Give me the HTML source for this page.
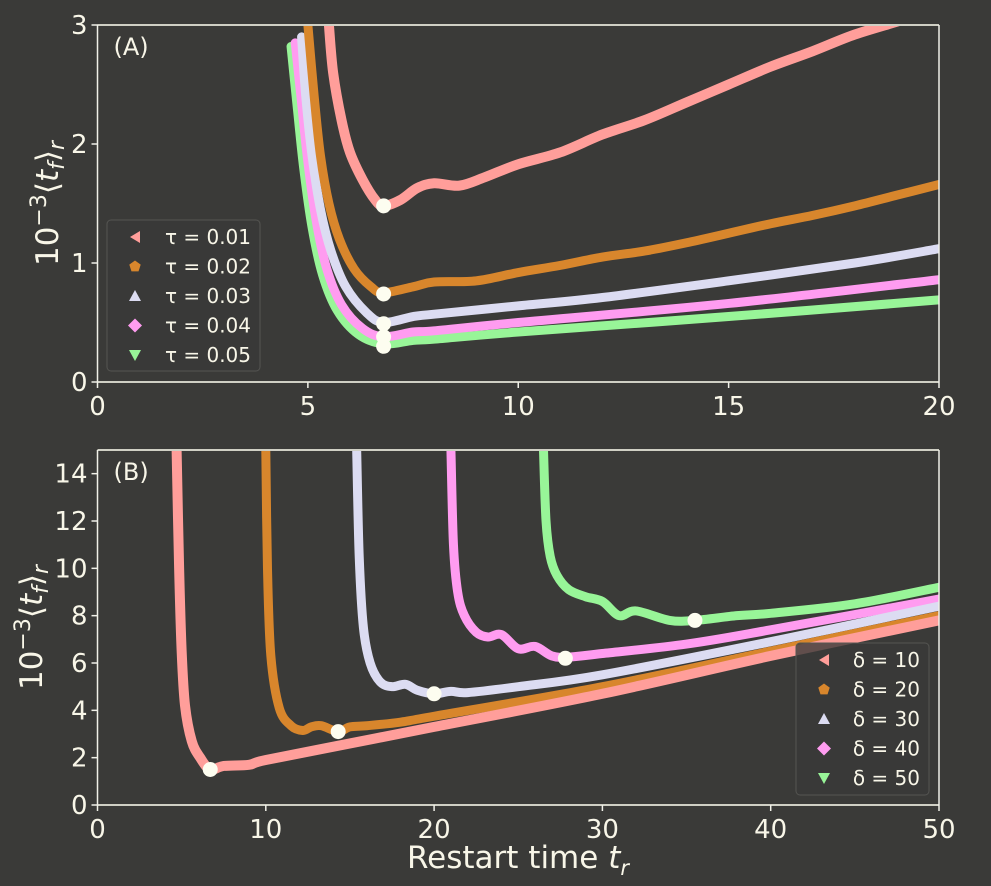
<!DOCTYPE html>
<html><head><meta charset="utf-8"><style>
body{margin:0;background:#3a3a38;}
svg text{font-family:"DejaVu Sans","Liberation Sans",sans-serif;fill:#f8f6e8;}
</style></head><body>
<svg width="991" height="886" viewBox="0 0 991 886" style="position:absolute;left:0;top:0">
<rect width="991" height="886" fill="#3a3a38"/>
<defs>
<clipPath id="ca"><rect x="97" y="25" width="842" height="357"/></clipPath>
<clipPath id="cb"><rect x="97" y="450" width="842" height="355"/></clipPath>
</defs>
<g id="A"></g><g id="B"></g>
<text x="518" y="868" text-anchor="middle" font-size="31">Restart time <tspan font-style="italic">t</tspan><tspan dy="7" font-size="21" font-style="italic">r</tspan></text>
</svg>
<script>
const colors=["#ff9e9a","#d8862c","#dcdcf2","#ff9cf0","#98f598"];
// Panel A data
const aLabels=["τ = 0.01","τ = 0.02","τ = 0.03","τ = 0.04","τ = 0.05"];
const aX=[
[5.5,5.6,5.8,6.0,6.3,6.6,6.8,7.2,7.6,8.0,8.6,9.2,10,11,12,13,14,15,16,17,18,19.2,20],
[5.0,5.15,5.3,5.5,5.75,6.1,6.5,6.8,7.5,8,9,10,11,12,13,14,15,16,17,18,19,20],
[4.85,4.95,5.1,5.3,5.55,5.9,6.4,6.8,7.5,8,10,12,15,18,20],
[4.7,4.85,5.0,5.2,5.45,5.8,6.3,6.8,7.5,8,10,15,20],
[4.6,4.75,4.9,5.1,5.35,5.7,6.2,6.8,7.5,8,10,15,20]];
const aY=[
[3.0,2.6,2.2,1.93,1.7,1.53,1.48,1.53,1.63,1.67,1.65,1.72,1.83,1.93,2.08,2.2,2.35,2.5,2.65,2.78,2.92,3.05,3.15],
[3.0,2.4,1.9,1.5,1.2,0.95,0.8,0.75,0.8,0.84,0.85,0.92,0.98,1.05,1.1,1.17,1.25,1.33,1.4,1.48,1.57,1.66],
[2.9,2.4,1.9,1.45,1.1,0.8,0.58,0.5,0.55,0.57,0.64,0.71,0.85,1.0,1.12],
[2.85,2.35,1.85,1.35,0.95,0.65,0.45,0.38,0.42,0.43,0.5,0.66,0.86],
[2.82,2.3,1.8,1.3,0.9,0.6,0.4,0.32,0.35,0.36,0.42,0.55,0.69]];
const aMinX=[6.8,6.8,6.8,6.8,6.8];
const aMinY=[1.48,0.74,0.49,0.38,0.30];
const aXTicks=[0,5,10,15,20], aYTicks=[0,1,2,3];
// Panel B data
const bLabels=["δ = 10","δ = 20","δ = 30","δ = 40","δ = 50"];
const bX=[
[4.7,4.85,5.0,5.2,5.6,6.1,6.7,7.5,9,10,15,20,30,40,50],
[10,10.1,10.3,10.8,11.5,12.2,12.7,13.3,14.3,15,16,18,20,30,40,50],
[15.4,15.55,15.8,16.2,16.8,17.5,18.3,19,20,21,22,25,30,40,50],
[21,21.15,21.4,21.8,22.5,23.2,24,25,26,27,28,30,35,40,50],
[26.5,26.65,26.9,27.3,28,29,30,31,32,34,35.5,38,40,45,50]];
const bY=[
[15,10,6.5,4.2,2.7,2.0,1.5,1.65,1.7,1.9,2.6,3.3,4.7,6.3,7.8],
[15,10,6.3,4.1,3.35,3.15,3.3,3.35,3.1,3.3,3.35,3.5,3.75,5.0,6.5,8.0],
[15,10.5,7.5,6.0,5.2,5.0,5.1,4.85,4.7,4.8,4.75,5.0,5.5,6.9,8.4],
[15,11,9,8,7.3,7.1,7.2,6.6,6.7,6.3,6.25,6.4,6.8,7.4,8.7],
[15,12,10.5,9.7,9.1,8.8,8.6,8.0,8.2,7.8,7.8,8.0,8.1,8.5,9.2]];
const bMinX=[6.7,14.3,20,27.8,35.5];
const bMinY=[1.5,3.1,4.7,6.2,7.8];
const bXTicks=[0,10,20,30,40,50], bYTicks=[0,2,4,6,8,10,12,14];

const NS="http://www.w3.org/2000/svg";
function mk(p,t,a){const e=document.createElementNS(NS,t);for(const k in a)e.setAttribute(k,a[k]);p.appendChild(e);return e;}
function smooth(P){
  let d="M"+P[0][0]+","+P[0][1];
  for(let i=0;i<P.length-1;i++){
    const p0=P[Math.max(0,i-1)],p1=P[i],p2=P[i+1],p3=P[Math.min(P.length-1,i+2)];
    const c1=[p1[0]+(p2[0]-p0[0])/6,p1[1]+(p2[1]-p0[1])/6];
    const c2=[p2[0]-(p3[0]-p1[0])/6,p2[1]-(p3[1]-p1[1])/6];
    d+=` C${c1[0]},${c1[1]} ${c2[0]},${c2[1]} ${p2[0]},${p2[1]}`;
  }
  return d;
}
function panel(g,cfg){
  const sx=v=>cfg.x0+(v-cfg.xmin)/(cfg.xmax-cfg.xmin)*(cfg.x1-cfg.x0);
  const sy=v=>cfg.y0-(v-cfg.ymin)/(cfg.ymax-cfg.ymin)*(cfg.y0-cfg.y1);
  const cg=mk(g,"g",{"clip-path":"url(#"+cfg.clip+")"});
  for(let i=4;i>=0;i--){
    const P=cfg.X[i].map((x,j)=>[sx(x),sy(cfg.Y[i][j])]);
    const l=mk(cg,"path",{d:smooth(P),fill:"none",stroke:colors[i],"stroke-width":i==0?10:9,"stroke-linejoin":"round","stroke-linecap":"round"});
    
    
  }
  for(let i=0;i<5;i++){
    const c=mk(cg,"circle",{cx:sx(cfg.MX[i]),cy:sy(cfg.MY[i]),r:7.5,fill:"#fdfdf0"});
    
    
  }
  mk(g,"line",{x1:cfg.x0,y1:cfg.y1,x2:cfg.x1,y2:cfg.y1,stroke:"#cfcfc4","stroke-width":2});
  mk(g,"line",{x1:cfg.x0,y1:cfg.y0,x2:cfg.x1,y2:cfg.y0,stroke:"#cfcfc4","stroke-width":2});
  mk(g,"line",{x1:cfg.x0,y1:cfg.y0,x2:cfg.x0,y2:cfg.y1,stroke:"#f0f0e8","stroke-width":1.5});
  mk(g,"line",{x1:cfg.x1,y1:cfg.y0,x2:cfg.x1,y2:cfg.y1,stroke:"#f0f0e8","stroke-width":1.5});
  cfg.XT.forEach(v=>{mk(g,"line",{x1:sx(v),x2:sx(v),y1:cfg.y0,y2:cfg.y0+6,stroke:"#f0f0e8","stroke-width":1.5});
    const t=mk(g,"text",{x:sx(v),y:cfg.y0+33,"text-anchor":"middle","font-size":26});t.textContent=v;
    });
  cfg.YT.forEach(v=>{mk(g,"line",{x1:cfg.x0-6,x2:cfg.x0,y1:sy(v),y2:sy(v),stroke:"#f0f0e8","stroke-width":1.5});
    const t=mk(g,"text",{x:cfg.x0-10,y:sy(v)+9,"text-anchor":"end","font-size":26});t.textContent=v;
    });
  const pl=mk(g,"text",{x:cfg.x0+16,y:cfg.y1+30,"font-size":24});pl.textContent=cfg.tag;
  
  const yl=mk(g,"text",{transform:`translate(${cfg.ylx},${(cfg.y0+cfg.y1)/2}) rotate(-90)`,"text-anchor":"middle","font-size":31});
  yl.innerHTML='10<tspan dy="-12" font-size="22">−3</tspan><tspan dy="12">⟨</tspan><tspan font-style="italic">t</tspan><tspan dy="6" font-size="22" font-style="italic">f</tspan><tspan dy="-6">⟩</tspan><tspan dy="6" font-size="22" font-style="italic">r</tspan>';
  
  const L=cfg.leg;
  const lg=mk(g,"g",{});
  
  mk(lg,"rect",{x:L.x,y:L.y,width:L.w,height:L.h,rx:4,fill:"#3a3a38","fill-opacity":0.8,stroke:"#555552","stroke-width":1});
  const shapes=["tri-left","pent","tri-up","diamond","tri-down"];
  for(let i=0;i<5;i++){
    const cx=L.x+28, cy=L.y+17+i*29.5;
    let pts;
    if(i==0)pts=[[cx+5,cy-6],[cx+5,cy+6],[cx-5,cy]];
    if(i==1)pts=[0,1,2,3,4].map(k=>[cx+6*Math.sin(k*1.2566),cy-6*Math.cos(k*1.2566)]);
    if(i==2)pts=[[cx,cy-6],[cx+6,cy+5],[cx-6,cy+5]];
    if(i==3)pts=[[cx,cy-7],[cx+7,cy],[cx,cy+7],[cx-7,cy]];
    if(i==4)pts=[[cx-6,cy-5],[cx+6,cy-5],[cx,cy+6]];
    const m=mk(lg,"polygon",{points:pts.map(p=>p.join(",")).join(" "),fill:colors[i]});
    
    const t=mk(lg,"text",{x:L.x+L.w-9,y:cy+7,"text-anchor":"end","font-size":20});t.textContent=cfg.labels[i];
    
  }
}
panel(document.getElementById("A"),{x0:97.5,x1:939,y0:382,y1:25,xmin:0,xmax:20,ymin:0,ymax:3,clip:"ca",
  X:aX,Y:aY,MX:aMinX,MY:aMinY,XT:aXTicks,YT:aYTicks,tag:"(A)",ylx:58,labels:aLabels,leg:{x:107,y:220,w:153,h:151}});
panel(document.getElementById("B"),{x0:97.5,x1:939,y0:805,y1:450,xmin:0,xmax:50,ymin:0,ymax:15,clip:"cb",
  X:bX,Y:bY,MX:bMinX,MY:bMinY,XT:bXTicks,YT:bYTicks,tag:"(B)",ylx:42,labels:bLabels,leg:{x:796,y:643,w:133,h:152}});
</script>
</body></html>
